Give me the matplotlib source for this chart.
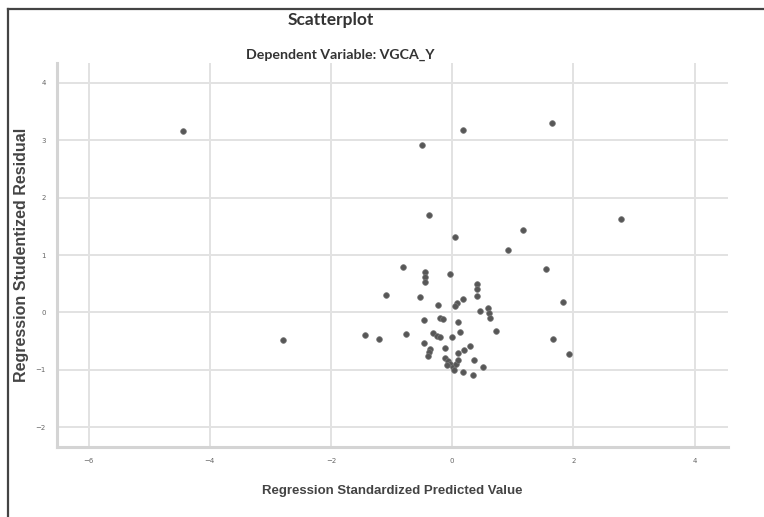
import matplotlib
matplotlib.use("Agg")
from matplotlib import pyplot as plt
from matplotlib.lines import Line2D

# standardized predicted values (x) and studentized residuals (y)
pred = [-4.44, -2.79, -0.50, 0.17, 1.65, -0.38, 0.05, 1.17, 0.92, 2.79,
        1.55, 1.83, 1.67, 1.93, -0.81, -0.45, -0.45, -0.45, -0.03, 0.41,
        0.41, 0.41, -1.09, -0.53, 0.17, 0.08, 0.05, -0.23, 0.46, 0.59,
        0.61, 0.63, -0.46, -0.20, -0.15, 0.10, 0.13, 0.73, -1.44, -1.20,
        -0.76, -0.31, -0.25, -0.20, 0.00, -0.46, -0.36, -0.38, -0.40, -0.12,
        0.30, 0.20, 0.10, -0.12, -0.07, -0.03, 0.02, 0.07, 0.10, -0.08,
        0.03, 0.36, 0.51, 0.17, 0.35]
resid = [3.16, -0.48, 2.91, 3.17, 3.30, 1.70, 1.31, 1.43, 1.09, 1.63,
         0.76, 0.18, -0.46, -0.72, 0.79, 0.70, 0.62, 0.53, 0.67, 0.50,
         0.41, 0.29, 0.30, 0.27, 0.23, 0.17, 0.11, 0.13, 0.03, 0.08,
         -0.01, -0.10, -0.13, -0.10, -0.11, -0.17, -0.34, -0.32, -0.39, -0.46,
         -0.37, -0.36, -0.41, -0.43, -0.43, -0.53, -0.63, -0.69, -0.76, -0.62,
         -0.58, -0.65, -0.70, -0.79, -0.84, -0.90, -0.95, -0.90, -0.83, -0.91,
         -1.00, -0.83, -0.95, -1.03, -1.09]

xticks = [-6, -4, -2, 0, 2, 4]
yticks = [-2, -1, 0, 1, 2, 3, 4]

fig = plt.figure(figsize=(7.64, 5.17), dpi=100)
ax = fig.add_axes([0.0746, 0.1354, 0.8783, 0.7427])

ax.scatter(pred, resid, s=17, color="#575757", edgecolors="#7a7a7a",
           linewidths=0.5, zorder=3)

ax.set_xlim(-6.52, 4.55)
ax.set_ylim(-2.34, 4.34)
ax.set_xticks(xticks)
ax.set_yticks(yticks)
ax.grid(True, color="#e2e2e2", linewidth=1.4)
ax.tick_params(length=0, labelsize=5, labelcolor="#666666", pad=8)

for s in ["top", "right"]:
    ax.spines[s].set_visible(False)
for s in ["left", "bottom"]:
    ax.spines[s].set_color("#d4d4d4")
    ax.spines[s].set_linewidth(2.2)

# axis titles placed where they sit in the screenshot
fig.text(392 / 764, 1 - 491 / 517, "Regression Standardized Predicted Value",
         ha="center", va="center", fontsize=9.5, fontweight="bold",
         family="Liberation Sans", color="#444444")
fig.text(22 / 764, 1 - 255 / 517, "Regression Studentized Residual",
         ha="center", va="center", rotation=90, fontsize=11.5,
         fontweight="bold", family="Liberation Sans", color="#444444")

fig.text(0.433, 0.962, "Scatterplot", ha="center", va="center",
         fontsize=12.5, fontweight="bold", family="Lato", color="#333333")
fig.text(0.446, 0.894, "Dependent Variable: VGCA_Y", ha="center", va="center",
         fontsize=10.2, fontweight="bold", family="Lato", color="#333333")

# frame lines of the screenshot
fig.add_artist(Line2D([8 / 764, 1], [1 - 9 / 517, 1 - 9 / 517],
                      color="#444444", linewidth=1.6))
fig.add_artist(Line2D([8 / 764, 8 / 764], [0, 1 - 9 / 517],
                      color="#444444", linewidth=1.6))

fig.savefig("out.png", dpi=100)
